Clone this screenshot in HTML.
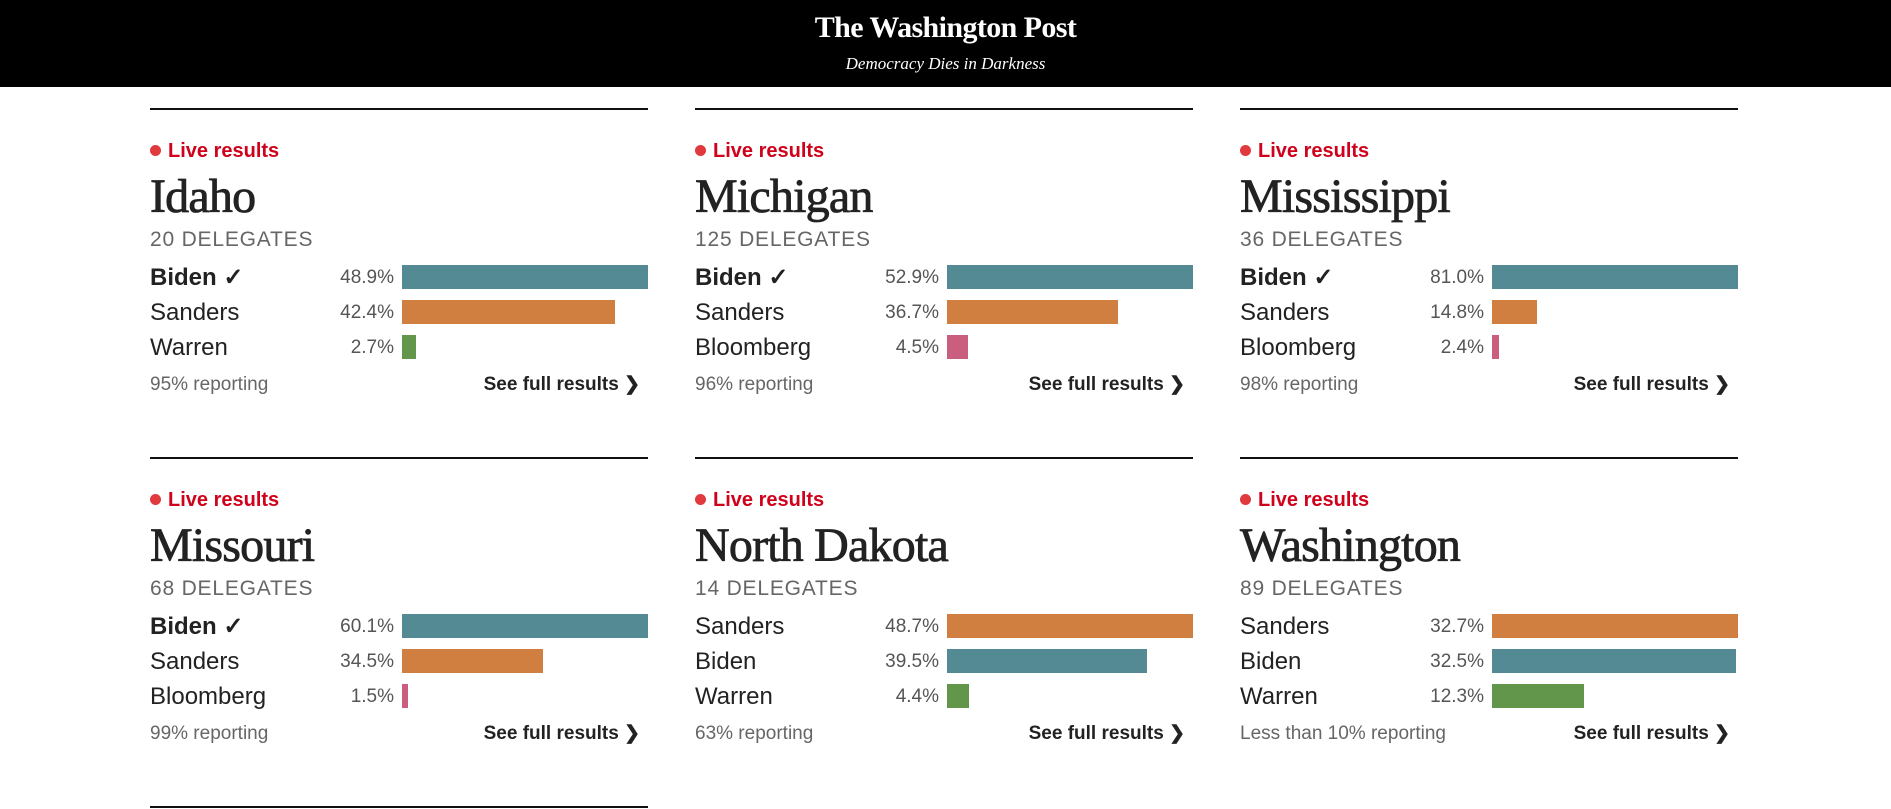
<!DOCTYPE html>
<html><head><meta charset="utf-8"><style>
*{margin:0;padding:0;box-sizing:border-box}
body{width:1891px;height:809px;background:#fff;position:relative;overflow:hidden;font-family:"Liberation Sans",sans-serif;color:#222}
.hdr{position:absolute;left:0;top:0;width:1891px;height:87px;background:#000;color:#fff;text-align:center}
.logo{position:absolute;left:0;width:100%;top:11px;font-family:"Liberation Serif",serif;font-weight:bold;font-size:30px;line-height:34px;letter-spacing:-0.6px}
.tag{position:absolute;left:0;width:100%;top:54px;font-family:"Liberation Serif",serif;font-style:italic;font-size:17px;line-height:20px}
.card{position:absolute;width:498px;height:320px}
.rule{position:absolute;left:0;top:0;width:498px;height:2px;background:#111}
.in{position:absolute;left:0;top:2px;width:498px;height:310px}
.live{position:absolute;left:18px;top:29px;font-size:20px;line-height:24px;font-weight:bold;color:#d0021b}
.dot{position:absolute;left:0;top:35px;width:11px;height:11px;border-radius:50%;background:#e0393e}
.st{position:absolute;left:0;top:59px;font-family:"Liberation Serif",serif;font-size:48px;line-height:56px;color:#222;-webkit-text-stroke:0.8px #222;letter-spacing:-0.8px}
.del{position:absolute;left:0;top:118px;font-size:21px;line-height:24px;color:#666;letter-spacing:0.8px}
.row{position:absolute;left:0;width:498px;height:30px}
.nm{position:absolute;left:0;top:2px;font-size:24px;line-height:26px;color:#222}
.nm.b{font-weight:bold}
.pct{position:absolute;right:254px;top:4px;font-size:19px;line-height:22px;color:#555;text-align:right}
.bar{position:absolute;left:252px;top:2px;height:24px}
.rep{position:absolute;left:0;top:263px;font-size:19px;line-height:24px;color:#666}
.see{position:absolute;right:8px;top:263px;font-size:19px;line-height:24px;font-weight:bold;color:#222}
.B{background:#548a94}.S{background:#d17f40}.W{background:#62964a}.M{background:#c95e7e}
</style></head><body>
<div class="hdr"><div class="logo">The Washington Post</div><div class="tag">Democracy Dies in Darkness</div></div>

<div class="card" style="left:150px;top:108px"><div class="rule"></div><div class="in">
<div class="dot"></div><div class="live">Live results</div>
<div class="st">Idaho</div><div class="del">20 DELEGATES</div>
<div class="row" style="top:153px"><div class="nm b">Biden ✓</div><div class="pct">48.9%</div><div class="bar B" style="width:246px"></div></div>
<div class="row" style="top:188px"><div class="nm">Sanders</div><div class="pct">42.4%</div><div class="bar S" style="width:213px"></div></div>
<div class="row" style="top:223px"><div class="nm">Warren</div><div class="pct">2.7%</div><div class="bar W" style="width:14px"></div></div>
<div class="rep">95% reporting</div><div class="see">See full results ❯</div>
</div></div>

<div class="card" style="left:695px;top:108px"><div class="rule"></div><div class="in">
<div class="dot"></div><div class="live">Live results</div>
<div class="st">Michigan</div><div class="del">125 DELEGATES</div>
<div class="row" style="top:153px"><div class="nm b">Biden ✓</div><div class="pct">52.9%</div><div class="bar B" style="width:246px"></div></div>
<div class="row" style="top:188px"><div class="nm">Sanders</div><div class="pct">36.7%</div><div class="bar S" style="width:171px"></div></div>
<div class="row" style="top:223px"><div class="nm">Bloomberg</div><div class="pct">4.5%</div><div class="bar M" style="width:21px"></div></div>
<div class="rep">96% reporting</div><div class="see">See full results ❯</div>
</div></div>

<div class="card" style="left:1240px;top:108px"><div class="rule"></div><div class="in">
<div class="dot"></div><div class="live">Live results</div>
<div class="st">Mississippi</div><div class="del">36 DELEGATES</div>
<div class="row" style="top:153px"><div class="nm b">Biden ✓</div><div class="pct">81.0%</div><div class="bar B" style="width:246px"></div></div>
<div class="row" style="top:188px"><div class="nm">Sanders</div><div class="pct">14.8%</div><div class="bar S" style="width:45px"></div></div>
<div class="row" style="top:223px"><div class="nm">Bloomberg</div><div class="pct">2.4%</div><div class="bar M" style="width:7px"></div></div>
<div class="rep">98% reporting</div><div class="see">See full results ❯</div>
</div></div>

<div class="card" style="left:150px;top:457px"><div class="rule"></div><div class="in">
<div class="dot"></div><div class="live">Live results</div>
<div class="st">Missouri</div><div class="del">68 DELEGATES</div>
<div class="row" style="top:153px"><div class="nm b">Biden ✓</div><div class="pct">60.1%</div><div class="bar B" style="width:246px"></div></div>
<div class="row" style="top:188px"><div class="nm">Sanders</div><div class="pct">34.5%</div><div class="bar S" style="width:141px"></div></div>
<div class="row" style="top:223px"><div class="nm">Bloomberg</div><div class="pct">1.5%</div><div class="bar M" style="width:6px"></div></div>
<div class="rep">99% reporting</div><div class="see">See full results ❯</div>
</div></div>

<div class="card" style="left:695px;top:457px"><div class="rule"></div><div class="in">
<div class="dot"></div><div class="live">Live results</div>
<div class="st">North Dakota</div><div class="del">14 DELEGATES</div>
<div class="row" style="top:153px"><div class="nm">Sanders</div><div class="pct">48.7%</div><div class="bar S" style="width:246px"></div></div>
<div class="row" style="top:188px"><div class="nm">Biden</div><div class="pct">39.5%</div><div class="bar B" style="width:200px"></div></div>
<div class="row" style="top:223px"><div class="nm">Warren</div><div class="pct">4.4%</div><div class="bar W" style="width:22px"></div></div>
<div class="rep">63% reporting</div><div class="see">See full results ❯</div>
</div></div>

<div class="card" style="left:1240px;top:457px"><div class="rule"></div><div class="in">
<div class="dot"></div><div class="live">Live results</div>
<div class="st">Washington</div><div class="del">89 DELEGATES</div>
<div class="row" style="top:153px"><div class="nm">Sanders</div><div class="pct">32.7%</div><div class="bar S" style="width:246px"></div></div>
<div class="row" style="top:188px"><div class="nm">Biden</div><div class="pct">32.5%</div><div class="bar B" style="width:244px"></div></div>
<div class="row" style="top:223px"><div class="nm">Warren</div><div class="pct">12.3%</div><div class="bar W" style="width:92px"></div></div>
<div class="rep">Less than 10% reporting</div><div class="see">See full results ❯</div>
</div></div>

<div style="position:absolute;left:150px;top:806px;width:498px;height:2px;background:#111"></div>
</body></html>
